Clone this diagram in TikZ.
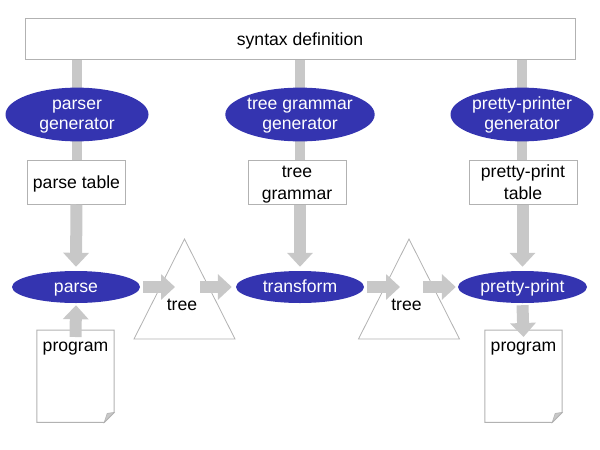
\documentclass[tikz,border=0pt]{standalone}
\usepackage{fontspec}
\setmainfont{Liberation Sans}
\usetikzlibrary{shapes.geometric, arrows.meta, backgrounds, calc}
\definecolor{procblue}{RGB}{52,52,176}
\definecolor{arrowgray}{RGB}{200,200,200}
\definecolor{edgegray}{RGB}{178,178,178}
% line struts, so that the text sits in its shape as in the original
\newcommand{\estrut}{\rule[-4pt]{0pt}{18pt}}
\newcommand{\bstrut}{\rule[-4pt]{0pt}{21pt}}
\tikzset{
  txt/.style={font=\fontsize{17.6}{20}\selectfont, align=center, inner sep=0pt},
  box/.style={txt, rectangle, draw=edgegray, fill=white, line width=1pt},
  proc/.style={txt, ellipse, fill=procblue, text=white},
  doc/.style={txt, rectangle, minimum width=77pt, text height=18pt,
              text depth=68pt, inner sep=3pt},
  docline/.style={draw=edgegray, line width=1pt},
  bar/.style={arrowgray, line width=10pt},
  fat/.style={arrowgray, line width=12pt,
              -{Triangle[length=14pt, width=25pt]}},
  tri/.style={draw=edgegray, fill=white, line width=0.8pt}
}

\begin{document}
\begin{tikzpicture}[x=1pt, y=-1pt]
  \useasboundingbox (0,0) rectangle (600,450);

  % top row
  \node[box, minimum width=550pt, minimum height=41pt] (syn) at (300,38.5) {\bstrut syntax definition};
  \node[proc, minimum width=143pt, minimum height=53pt] (pgen)  at (77,114.5)  {\estrut parser\\\estrut generator};
  \node[proc, minimum width=143pt, minimum height=53pt] (tgen)  at (300,114.5) {\estrut tree grammar\\\estrut generator};
  \node[proc, minimum width=143pt, minimum height=53pt] (ppgen) at (522,114.5) {\estrut pretty-printer\\\estrut generator};

  % tables
  \node[box, minimum width=98pt,  minimum height=44pt] (ptab)  at (76.5,182) {\bstrut parse table};
  \node[box, minimum width=98pt,  minimum height=44pt] (tgram) at (297,182)  {\bstrut tree\\\bstrut grammar};
  \node[box, minimum width=108pt, minimum height=44pt] (pptab) at (523,182)  {\bstrut pretty-print\\\bstrut table};

  % processing row
  \node[proc, minimum width=128pt, minimum height=32pt] (parse)  at (76,287)    {\estrut parse};
  \node[proc, minimum width=128pt, minimum height=32pt] (trans)  at (300,287)   {\estrut transform};
  \node[proc, minimum width=129pt, minimum height=32pt] (pprint) at (522.5,287) {\estrut pretty-print};

  \begin{pgfonlayer}{background}
    \draw[bar] (syn.south -| pgen)  -- (ptab.north -| pgen);
    \draw[bar] (syn.south -| tgen)  -- (tgram.north -| tgen);
    \draw[bar] (syn.south -| ppgen) -- (pptab.north -| ppgen);
  \end{pgfonlayer}

  % trees
  \coordinate (tree1) at (184.5,289);
  \coordinate (tree2) at (409,289);
  \draw[tri] ($(tree1)+(0,-50)$) -- ($(tree1)+(50.5,50)$) -- ($(tree1)+(-50.5,50)$) -- cycle;
  \draw[tri] ($(tree2)+(0,-50)$) -- ($(tree2)+(50.5,50)$) -- ($(tree2)+(-50.5,50)$) -- cycle;
  \node[txt] (tlbl1) at (182,303.5) {\bstrut tree};
  \node[txt] (tlbl2) at (406.5,303.5) {\bstrut tree};
  \coordinate (t1in)  at (175,287);
  \coordinate (t1out) at (200,287);
  \coordinate (t2in)  at (400,287);
  \coordinate (t2out) at (423,287);

  % programs
  \node[doc, anchor=north] (prog1) at (75.5,330)  {program};
  \node[doc, anchor=north] (prog2) at (523.5,330) {program};
  \foreach \d in {prog1, prog2} {
    \draw[docline] (\d.north west) -- (\d.north east) -- ([yshift=10pt]\d.south east)
      -- ([xshift=-10pt]\d.south east) -- (\d.south west) -- cycle;
    \filldraw[fill=arrowgray, docline, line width=0.6pt] ([xshift=-10pt]\d.south east)
      -- ([yshift=10pt]\d.south east) -- ([shift={(-7pt,9pt)}]\d.south east) -- cycle;
  }

  % arrows
  \draw[fat] (ptab.south) -- ([yshift=4pt]parse.north);
  \draw[fat] (tgram.south -| trans) -- ([yshift=4pt]trans.north);
  \draw[fat] (pptab.south -| pprint) -- ([yshift=4pt]pprint.north);
  \draw[fat] ([yshift=-7pt]prog1.north) -- ([yshift=-2pt]parse.south);
  \draw[fat] ([yshift=-2pt]pprint.south) -- ([yshift=-7pt]prog2.north);
  \draw[fat] ([xshift=3pt]parse.east) -- (t1in);
  \draw[fat] (t1out) -- ([xshift=-4pt]trans.west);
  \draw[fat] ([xshift=3pt]trans.east) -- (t2in);
  \draw[fat] (t2out) -- ([xshift=-2pt]pprint.west);
\end{tikzpicture}
\end{document}
